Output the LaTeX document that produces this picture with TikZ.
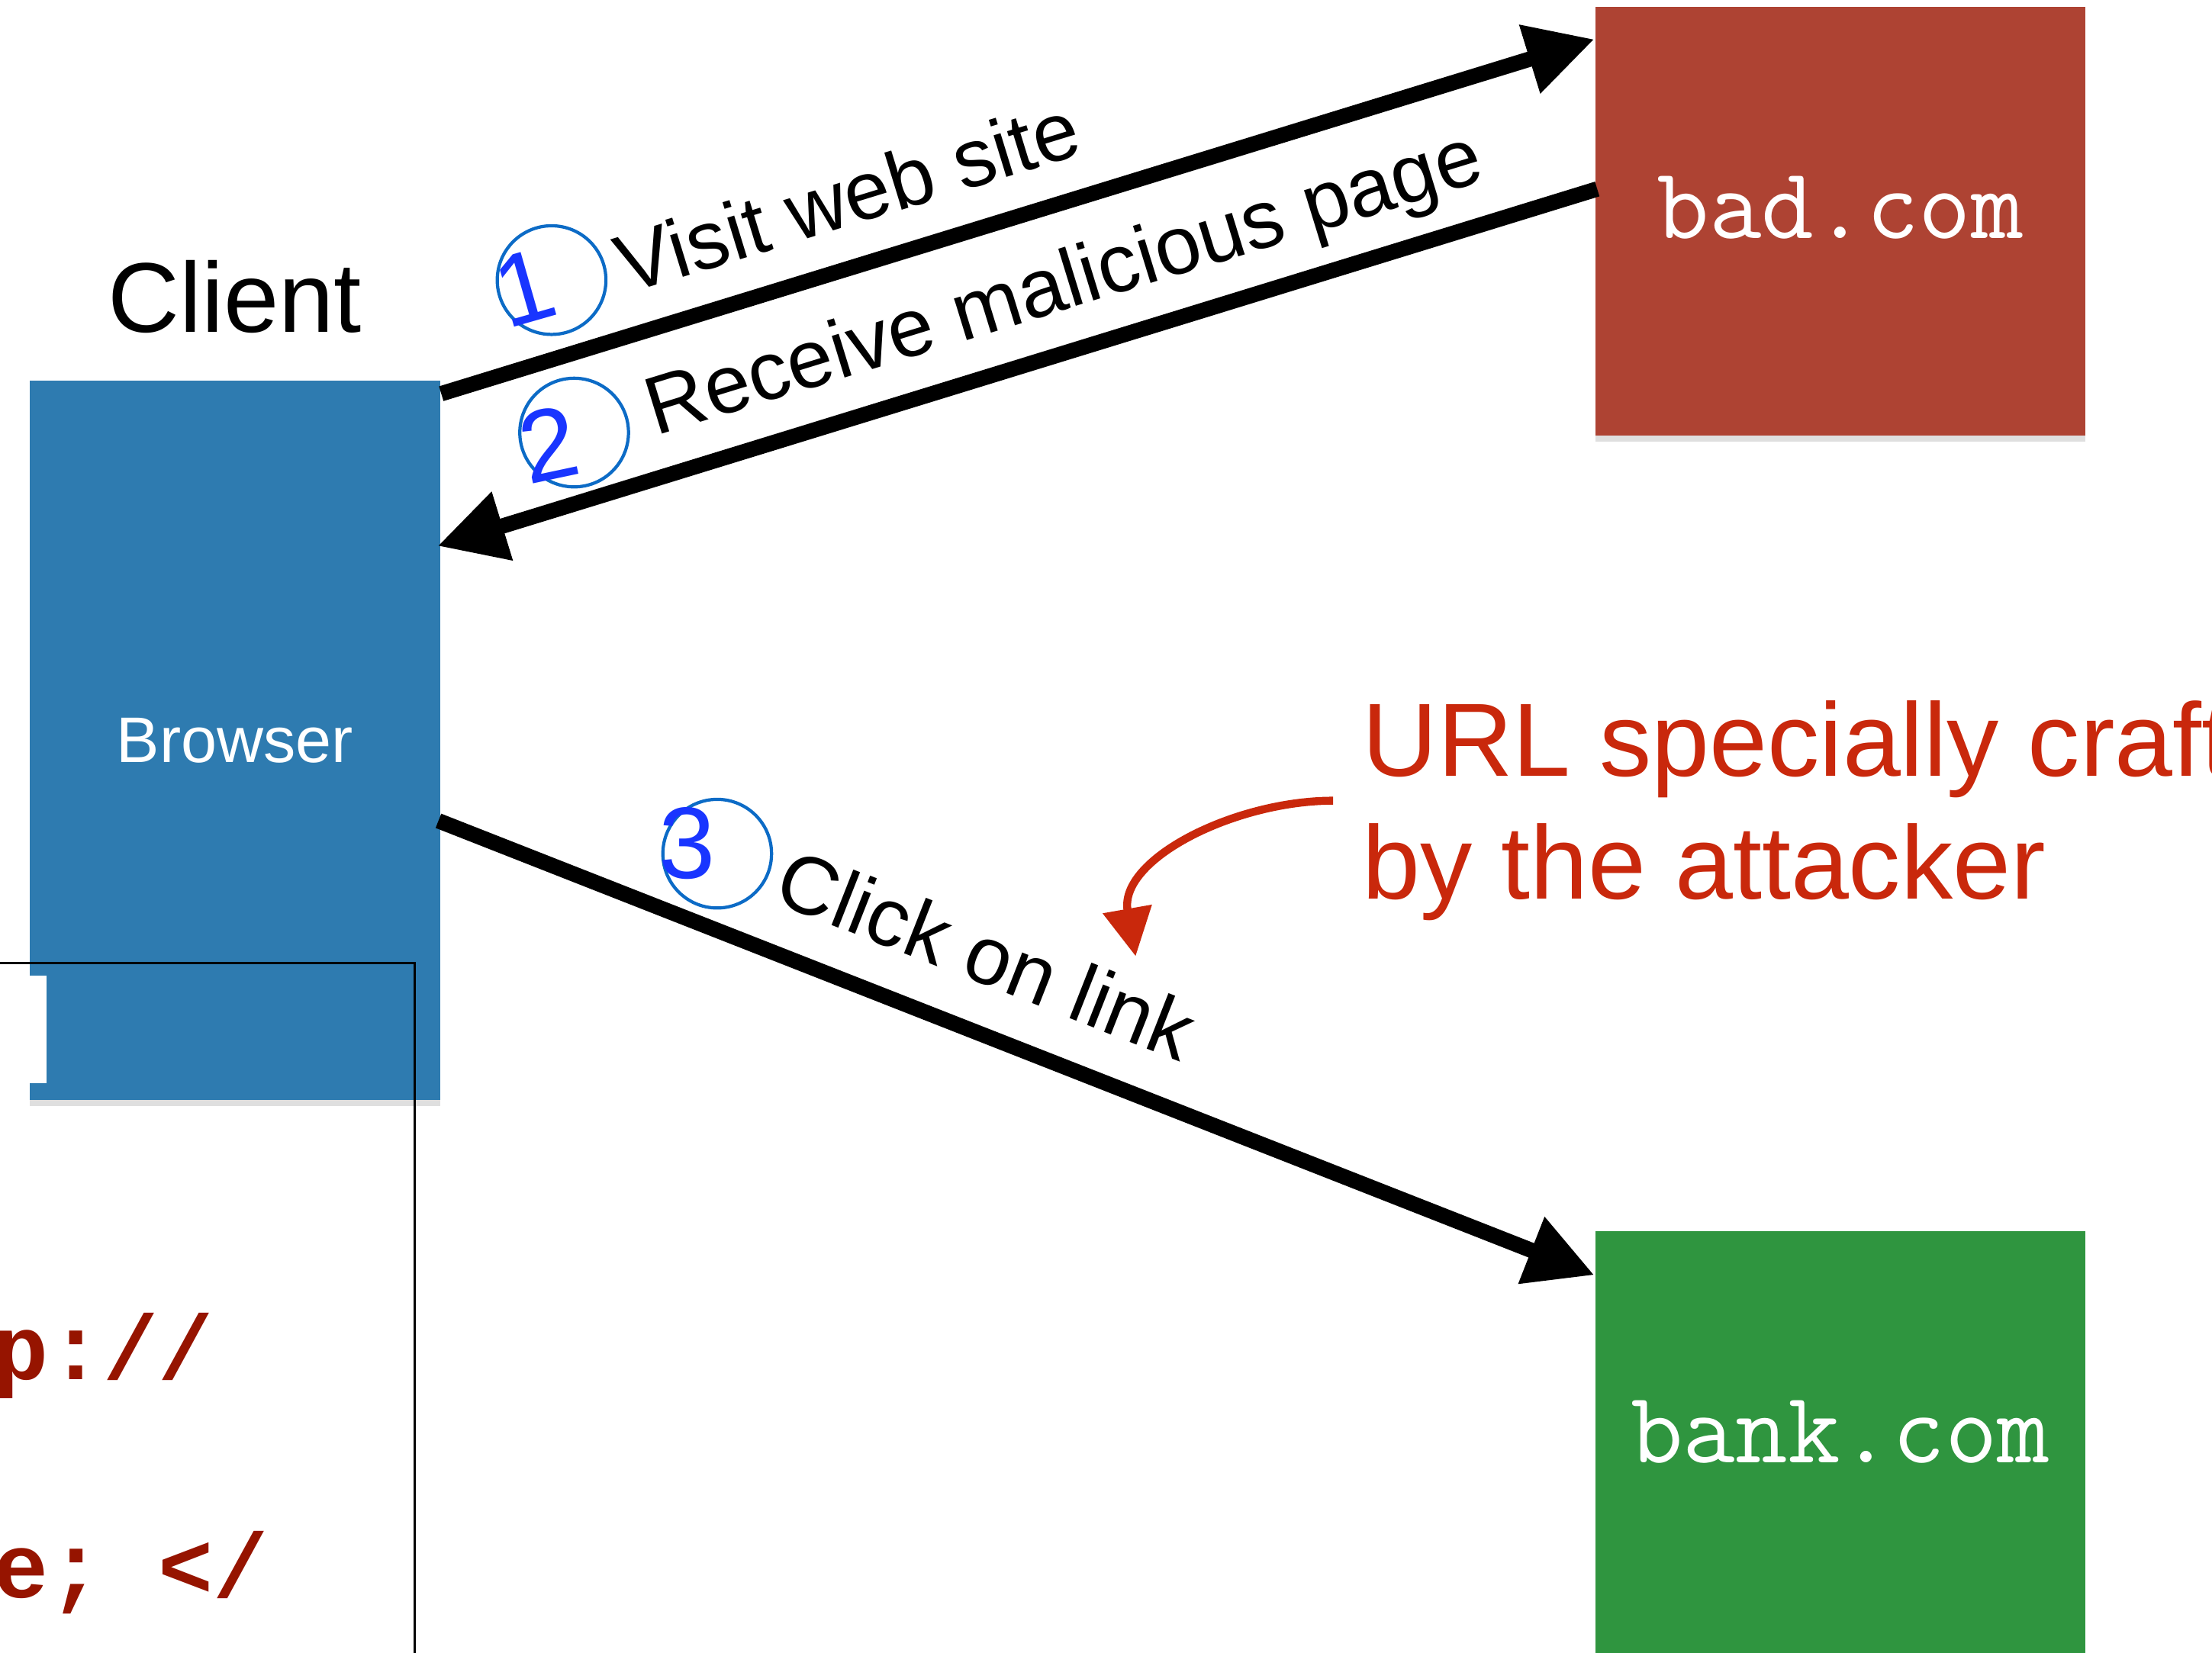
\documentclass[tikz,border=0pt]{standalone}
\usepackage{fontspec}
\setmainfont{Liberation Sans}
\newfontfamily\codefont{Liberation Mono}
\usetikzlibrary{calc,arrows.meta,positioning,shadows}
\definecolor{browserblue}{RGB}{46,123,176}
\definecolor{badred}{RGB}{174,67,51}
\definecolor{bankgreen}{RGB}{47,149,63}
\definecolor{notered}{RGB}{201,40,12}
\definecolor{codered}{RGB}{150,20,0}
\definecolor{ringblue}{RGB}{12,107,198}
\definecolor{digitblue}{RGB}{25,53,255}
\tikzset{
  hostbox/.style={rectangle, minimum width=3.47cm, minimum height=3.04cm, inner sep=0pt, text=white, text depth=5.7pt, font=\ttfamily\fontsize{20.5}{24}\selectfont, drop shadow={shadow xshift=0cm, shadow yshift=-0.04cm, opacity=0.25}},
  flow/.style={-{Triangle[length=0.48cm, width=0.48cm]}, line width=3.1pt},
  steplabel/.style={sloped, above, inner xsep=0pt, text depth=0pt, font=\fontsize{16.6}{19}\selectfont},
  stepring/.style={circle, draw=ringblue, line width=0.65pt, minimum size=0.77cm, inner sep=0pt},
  stepdigit/.style={text=digitblue, inner sep=0pt, font=\fontsize{20.5}{24}\selectfont}
}

\begin{document}
\begin{tikzpicture}[x=0.01cm, y=-0.01cm]
  \useasboundingbox (0,0) rectangle (1568,1172);
  \clip (0,0) rectangle (1568,1172);

  % client side
  \node [hostbox, fill=browserblue, minimum width=2.91cm, minimum height=5.10cm, text depth=0pt, font=\fontsize{13}{15}\selectfont] (browser) at (166.5,525) {Browser};
  \node [above=0.32cm of browser, inner sep=0pt, font=\fontsize{20}{24}\selectfont] (client) {Client};

  % servers
  \node [hostbox, fill=badred] (bad) at (1304.5,157) {bad.com};
  \node [hostbox, fill=bankgreen, below=5.62cm of bad] (bank) {bank.com};

  % code window (cut off)
  \draw [line width=0.45pt] (-20,683) rectangle (294,1200);
  \fill [white] (-5,692) rectangle (33,768);
  \node [anchor=base west, inner sep=0pt, text=codered, font=\codefont\bfseries\fontsize{18.5}{22}\selectfont] (codeA) at (-5.5,978) {p://};
  \node [anchor=base west, inner sep=0pt, text=codered, font=\codefont\bfseries\fontsize{18.5}{22}\selectfont] (codeB) at (-5.5,1133) {e; </};

  % steps
  \draw [flow] ($(browser.north east)+(0,10)$) -- node [steplabel, pos=0.37, inner ysep=6.6pt] (visit) {Visit web site} ($(bad.north west)+(0,23.6)$);
  \draw [flow] ($(bad.west)+(2,-23)$) -- node [steplabel, pos=0.443, inner ysep=6.7pt] (receive) {Receive malicious page} ($(browser.north east)+(-2.6,118)$);
  \draw [flow] ($(browser.east)+(-2,57)$) -- node [steplabel, pos=0.45, inner ysep=7.9pt] (click) {Click on link} ($(bank.north west)+(0,32)$);

  \node [stepring] (ring1) at (391,198.6) {};
  \node [stepdigit, rotate=16] (num1) at ($(ring1)+(-19,5.4)$) {1};
  \node [stepring] (ring2) at (407,306.7) {};
  \node [stepdigit, rotate=12] (num2) at ($(ring2)+(-18,8)$) {2};
  \node [stepring] (ring3) at (508.4,605.3) {};
  \node [stepdigit] (num3) at ($(ring3)+(-21.4,-7.3)$) {3};

  % note
  \node [anchor=north west, inner sep=0pt, align=left, text=notered, font=\fontsize{21}{24.8}\selectfont] (note) at (965,496) {URL specially craft\\by the attacker};
  \coordinate (hint) at (805,678);
  \draw [notered, line width=1.6pt, -{Triangle[length=0.34cm, width=0.34cm]}] ($(note.west)+(-20,-7)$) to [out=180, in=100] (hint);
\end{tikzpicture}
\end{document}
